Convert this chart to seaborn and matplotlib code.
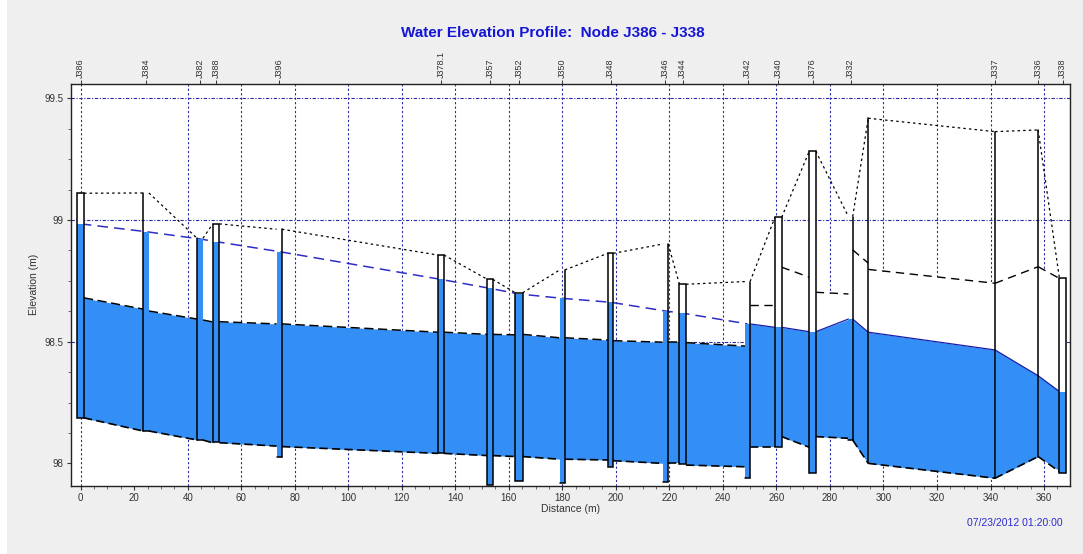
import numpy as np
import pandas as pd
import matplotlib
matplotlib.use("Agg")
import matplotlib.pyplot as plt
import seaborn as sns
from matplotlib.patches import Rectangle
from matplotlib.ticker import MultipleLocator, FixedLocator, FixedFormatter

# ---------------- data ----------------
node_names = ["J386", "J384", "J382", "J388", "J396", "J378.1", "J357", "J352", "J350", "J348",
              "J346", "J344", "J342", "J340", "J376", "J332", "", "J337", "J336", "J338"]
node_dist = [0.0, 24.4, 44.6, 50.6, 74.2, 134.6, 153.0, 163.8, 180.0, 198.0,
             218.5, 225.0, 249.2, 260.7, 273.5, 287.7, 294.3, 341.7, 357.8, 367.0]
node_rim = [99.110, 99.111, 98.925, 98.984, 98.962, 98.856, 98.756, 98.701, 98.795, 98.863,
            98.901, 98.736, 98.747, 99.011, 99.283, 99.014, 99.418, 99.363, 99.370, 98.760]
node_hgl = [98.984, 98.952, 98.922, 98.911, 98.870, 98.756, 98.719, 98.696, 98.678, 98.662,
            98.626, 98.617, 98.573, 98.559, 98.541, 98.593, 98.539, 98.466, 98.360, 98.295]
node_invert = [98.187, 98.133, 98.096, 98.089, 98.028, 98.041, 97.911, 97.929, 97.919, 97.986,
               97.925, 97.996, 97.939, 98.066, 97.959, 98.096, 98.000, 97.939, 98.028, 97.959]

link_up_invert = [98.187, 98.133, 98.096, 98.085, 98.069, 98.041, 98.032, 98.028, 98.017, 98.011,
                  98.000, 97.993, 98.069, 98.110, 98.110, 98.096, 98.000, 97.939, 98.028]
link_dn_invert = [98.133, 98.096, 98.084, 98.071, 98.041, 98.032, 98.028, 98.017, 98.014, 98.000,
                  98.000, 97.986, 98.069, 98.066, 98.103, 98.000, 97.939, 98.028, 97.966]
link_up_crown = [98.680, 98.626, 98.589, 98.582, 98.573, 98.539, 98.530, 98.530, 98.516, 98.504,
                 98.498, 98.496, 98.651, 98.806, 98.703, 98.877, 98.797, 98.740, 98.808]
link_dn_crown = [98.634, 98.593, 98.581, 98.573, 98.539, 98.530, 98.528, 98.516, 98.507, 98.498,
                 98.498, 98.482, 98.651, 98.765, 98.696, 98.823, 98.740, 98.808, 98.760]

x_ticks = list(range(0, 361, 20))
y_ticks = [98.0, 98.5, 99.0, 99.5]
y_tick_labels = ["98", "98.5", "99", "99.5"]
title = "Water Elevation Profile:  Node J386 - J338"
timestamp = "07/23/2012 01:20:00"

# ---------------- styles ----------------
node_width = {"J386": 2.5, "J384": 2.2, "J382": 2.2, "J388": 2.5, "J396": 2.0, "J378.1": 2.35,
              "J357": 2.0, "J352": 2.75, "J350": 1.9, "J348": 2.1, "J346": 2.1, "J344": 2.5,
              "J342": 1.9, "J340": 2.5, "J376": 2.4, "J332": 1.6, "": 0.0, "J337": 0.0,
              "J336": 0.0, "J338": 2.5}
node_style = {"J386": "box", "J384": "left", "J382": "left", "J388": "box", "J396": "right",
              "J378.1": "box", "J357": "box", "J352": "box", "J350": "right", "J348": "box",
              "J346": "right", "J344": "box", "J342": "right", "J340": "box", "J376": "box",
              "J332": "right", "": "line", "J337": "line", "J336": "line", "J338": "box"}

BLUE = "#338ff5"
GRID = "#2a2aa8"

sns.set_style("white")
plt.rcParams["font.family"] = ["Liberation Sans", "DejaVu Sans"]

fig = plt.figure(figsize=(10.83, 5.54), dpi=100)
fig.patch.set_facecolor("#efefef")
fig.patches.append(Rectangle((0, 0), 7 / 1083, 1, transform=fig.transFigure,
                             facecolor="white", edgecolor="none", zorder=0))
ax = fig.add_axes([70.5 / 1083, 68 / 554, (1070 - 70.5) / 1083, (486 - 83.7) / 554])
ax.set_facecolor("white")
ax.set_xlim(-3.8, 369.7)
ax.set_ylim(97.907, 99.56)

# grid (drawn manually, behind everything)
for xv in x_ticks:
    if xv == 20:
        continue
    ax.axvline(xv, color=GRID, lw=0.8, ls=(0, (2, 2)), zorder=0.5)
for yv in [98.5, 99.0, 99.5]:
    ax.axhline(yv, color=GRID, lw=0.8, ls=(0, (3, 1.5, 1, 1.5)), zorder=0.5)

n = len(node_names)
half = [node_width[node_names[i]] / 2 for i in range(n)]
left_edge = [node_dist[i] - half[i] for i in range(n)]
right_edge = [node_dist[i] + half[i] for i in range(n)]

# pipes
for i in range(n - 1):
    x0, x1 = right_edge[i], left_edge[i + 1]
    inv = np.array([link_up_invert[i], link_dn_invert[i]])
    crn = np.array([link_up_crown[i], link_dn_crown[i]])
    wat = np.array([node_hgl[i], node_hgl[i + 1]])
    top = np.minimum(wat, crn)
    xs = np.array([x0, x1])
    # fills overlap slightly into the nodes to avoid seams
    xf = np.array([x0 - min(0.4, half[i]), x1 + min(0.4, half[i + 1])])
    ax.fill_between(xf, inv, crn, color="white", lw=0, zorder=1.5)
    ax.fill_between(xf, inv, top, color=BLUE, lw=0, zorder=2)
    ax.plot(xs, inv, color="black", lw=1.2, ls=(0, (5, 2.5)), zorder=3)
    full = wat[0] >= crn[0] and wat[1] >= crn[1]
    if full:
        ax.plot(xs, crn, color="black", lw=1.1, ls=(0, (6, 3)), zorder=3)
    else:
        ax.plot(xs, crn, color="black", lw=1.0, ls=(0, (6, 4)), zorder=3)
        ax.plot(xs, top, color="#1c1ca8", lw=0.9, zorder=3)

# ground surface line between node rims
for i in range(n - 1):
    seg = pd.DataFrame({"x": [right_edge[i], left_edge[i + 1]],
                        "y": [node_rim[i], node_rim[i + 1]]})
    sns.lineplot(data=seg, x="x", y="y", ax=ax, color="black", lw=0.9,
                 linestyle=(0, (2, 2.5)), sort=False, estimator=None, zorder=3)

# hydraulic grade line where surcharged
surch = [i for i in range(n) if i <= 12]
hgl_df = pd.DataFrame({"x": [node_dist[i] for i in surch], "y": [node_hgl[i] for i in surch]})
sns.lineplot(data=hgl_df, x="x", y="y", ax=ax, color="#2d2dc8", lw=1.1,
             linestyle=(0, (7, 4)), sort=False, estimator=None, zorder=3.2)

# nodes
for i in range(n):
    nm = node_names[i]
    st = node_style[nm]
    l, r = left_edge[i], right_edge[i]
    w = r - l
    rim, hgl, inv = node_rim[i], node_hgl[i], node_invert[i]
    if st == "box":
        ax.add_patch(Rectangle((l, inv), w, rim - inv, facecolor="white", edgecolor="none", zorder=4))
        ax.add_patch(Rectangle((l, inv), w, min(hgl, rim) - inv, facecolor=BLUE, edgecolor="none", zorder=4.1))
        ax.add_patch(Rectangle((l, inv), w, rim - inv, facecolor="none", edgecolor="black", lw=1.1, zorder=5))
    elif st in ("left", "right"):
        ax.add_patch(Rectangle((l, inv), w, min(hgl, rim) - inv, facecolor=BLUE, edgecolor="none", zorder=4.1))
        xe = l if st == "left" else r
        ax.plot([xe, xe], [inv, rim], color="black", lw=1.1, zorder=5)
        ax.plot([l, r], [inv, inv], color="black", lw=1.1, zorder=5)
    else:
        ax.plot([node_dist[i], node_dist[i]], [inv, rim], color="black", lw=1.1, zorder=5)

# axes styling
ax.xaxis.set_major_locator(FixedLocator(x_ticks))
ax.xaxis.set_minor_locator(MultipleLocator(5))
ax.yaxis.set_major_locator(FixedLocator(y_ticks))
ax.yaxis.set_major_formatter(FixedFormatter(y_tick_labels))
ax.yaxis.set_minor_locator(MultipleLocator(0.125))
ax.tick_params(axis="both", which="major", direction="out", length=3, width=0.8,
               labelsize=7, colors="#333333", pad=2)
ax.tick_params(axis="both", which="minor", direction="out", length=2, width=0.6, colors="#555555")
ax.tick_params(axis="x", bottom=True, which="both")
ax.tick_params(axis="y", left=True, which="both")
for sp in ax.spines.values():
    sp.set_color("#222222")
    sp.set_linewidth(1.0)
ax.set_xlabel("Distance (m)", fontsize=7.5, color="#333333", labelpad=1)
ax.set_ylabel("Elevation (m)", fontsize=7.5, color="#333333", labelpad=4)

# node labels on top
topax = ax.secondary_xaxis("top")
lab_idx = [i for i in range(n) if node_names[i]]
topax.set_xticks([node_dist[i] for i in lab_idx])
topax.set_xticklabels([node_names[i] for i in lab_idx], rotation=90, fontsize=6.5, color="#333333")
topax.tick_params(direction="out", length=3, width=0.7, pad=1, colors="#333333")
topax.xaxis.set_minor_locator(FixedLocator([]))
topax.spines["top"].set_visible(False)

fig.text(553 / 1083, 1 - 33 / 554, title, ha="center", va="center", fontsize=11,
         fontweight="bold", color="#1515d5")
fig.text(1063 / 1083, 1 - 523 / 554, timestamp, ha="right", va="center", fontsize=7.5,
         color="#2b2bd0")

fig.savefig("out.png", dpi=100, facecolor=fig.get_facecolor())
